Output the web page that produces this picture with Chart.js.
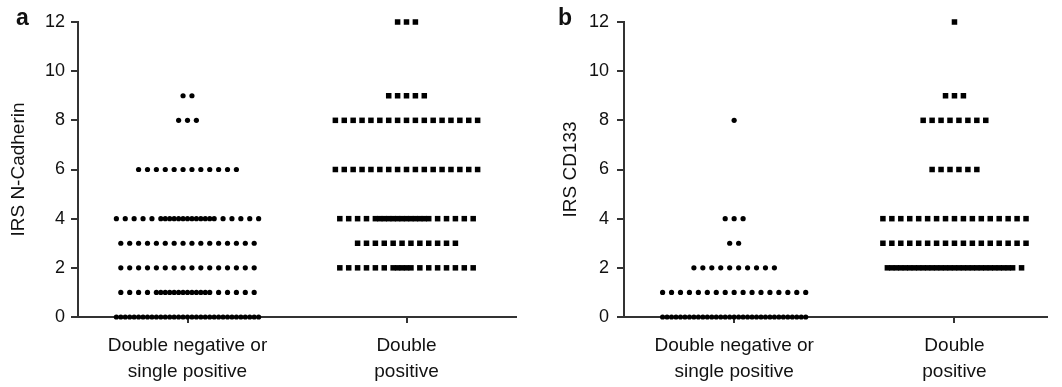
<!DOCTYPE html>
<html>
<head>
<meta charset="utf-8">
<script src="https://cdn.jsdelivr.net/npm/chart.js@4/dist/chart.umd.min.js"></script>
<style>
  body { margin: 0; background: #fff; font-family: "Liberation Sans", Arial, sans-serif; }
  .wrap { position: relative; width: 1062px; height: 387px; }
  canvas { position: absolute; top: 0; }
  .letter { position: absolute; font-weight: bold; font-size: 23px; color: #111; }
</style>
</head>
<body>
<div class="wrap">
  <canvas id="chartA" width="531" height="387" style="left:0"></canvas>
  <canvas id="chartB" width="531" height="387" style="left:531px"></canvas>
  <div class="letter" style="left:16px; top:4px;">a</div>
  <div class="letter" style="left:558px; top:4px;">b</div>
</div>
<script>
// IRS score levels (rows of dots)
const scores = [0, 1, 2, 3, 4, 6, 8, 9, 12];
const categories = [["Double negative or", "single positive"], ["Double", "positive"]];
const yTicks = [0, 2, 4, 6, 8, 10, 12];

// number of patients at each score level (read from the dot rows)
const nCadherinNeg = [33, 22, 16, 16, 23, 12, 3, 2, 0];
const nCadherinPos = [0, 0, 18, 12, 22, 17, 17, 5, 3];
const cd133Neg = [33, 17, 10, 2, 3, 0, 1, 0, 0];
const cd133Pos = [0, 0, 30, 17, 17, 6, 8, 3, 1];

const STEP = 0.0406; // horizontal spacing between neighbouring dots (x units)

// offsets of n dots in one row: up to 17 side by side, the rest squeezed in the centre
function rowOffsets(n) {
  const m = n <= 17 ? n : (n % 2 ? 17 : 16);
  const offs = [];
  for (let i = 0; i < m; i++) offs.push(i - (m - 1) / 2);
  const half = [];
  if (m % 2) {
    for (let k = 0.5; k < (m - 1) / 2; k++) half.push(-k, k);
  } else {
    half.push(0);
    for (let k = 1; k < (m - 1) / 2; k++) half.push(-k, k);
  }
  return offs.concat(half.slice(0, n - m));
}

function buildPoints(counts, center) {
  const pts = [];
  counts.forEach((n, i) => {
    rowOffsets(n).forEach((o) => pts.push({ x: center + o * STEP, y: scores[i] }));
  });
  return pts;
}

function makeChart(id, negCounts, posCounts, yTitle, axisWidth, xMax, titlePad, tickPad) {
  const ctx = document.getElementById(id).getContext("2d");
  return new Chart(ctx, {
    type: "scatter",
    data: {
      datasets: [
        {
          data: buildPoints(negCounts, 1),
          pointStyle: "circle",
          pointRadius: 2.6,
          pointBorderWidth: 0,
          backgroundColor: "#000",
          clip: false,
        },
        {
          data: buildPoints(posCounts, 2),
          pointStyle: "rect",
          pointRadius: 3.9,
          pointBorderWidth: 0,
          backgroundColor: "#000",
          clip: false,
        },
      ],
    },
    options: {
      responsive: false,
      animation: false,
      layout: { padding: { top: 22, right: 15, left: 0, bottom: 0 } },
      plugins: { legend: { display: false }, tooltip: { enabled: false } },
      scales: {
        x: {
          type: "linear",
          min: 0.5,
          max: xMax,
          afterBuildTicks: (s) => { s.ticks = [{ value: 1 }, { value: 2 }]; },
          afterFit: (s) => { s.height = 70; },
          ticks: {
            callback: (v) => categories[v - 1],
            color: "#111",
            font: { family: "'Liberation Sans', Arial", size: 19, lineHeight: 1.35 },
            padding: 10,
            maxRotation: 0,
          },
          grid: { drawOnChartArea: false, tickLength: 6, color: "#333", lineWidth: 2 },
          border: { color: "#333", width: 2 },
        },
        y: {
          min: 0,
          max: 12,
          afterBuildTicks: (s) => { s.ticks = yTicks.map((v) => ({ value: v })); },
          afterFit: (s) => { s.width = axisWidth; },
          ticks: {
            color: "#111",
            font: { family: "'Liberation Sans', Arial", size: 18 },
            padding: tickPad,
          },
          grid: { drawOnChartArea: false, tickLength: 7, color: "#333", lineWidth: 2 },
          border: { color: "#333", width: 2 },
          title: {
            display: true,
            text: yTitle,
            color: "#111",
            font: { family: "'Liberation Sans', Arial", size: 19 },
            padding: titlePad,
          },
        },
      },
    },
  });
}

makeChart("chartA", nCadherinNeg, nCadherinPos, "IRS N-Cadherin", 78, 2.5, 7, 6);
makeChart("chartB", cd133Neg, cd133Pos, "IRS CD133", 93, 2.42, 28, 8);
</script>
</body>
</html>
